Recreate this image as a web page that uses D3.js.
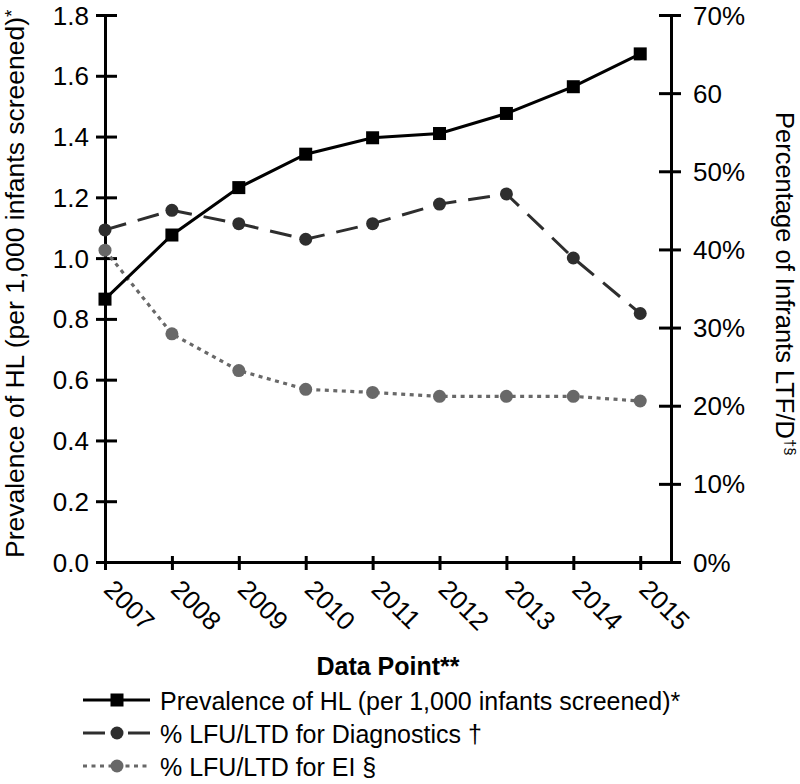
<!DOCTYPE html>
<html><head><meta charset="utf-8">
<script src="https://cdn.jsdelivr.net/npm/d3@7"></script>
<style>
body{margin:0;background:#fff}
text{font-family:"Liberation Sans",Arial,Helvetica,sans-serif;fill:#000}
</style>
</head><body>
<svg id="c" width="800" height="784"></svg>
<script>
// ---- data ----
const years = [2007, 2008, 2009, 2010, 2011, 2012, 2013, 2014, 2015];
const prevalence = [0.865, 1.076, 1.232, 1.342, 1.396, 1.41, 1.476, 1.564, 1.672];
const lfuDiagnostics = [42.5, 45.0, 43.3, 41.3, 43.3, 45.8, 47.1, 38.9, 31.8];
const lfuEI = [39.9, 29.2, 24.5, 22.1, 21.7, 21.2, 21.2, 21.2, 20.6];
const leftTicks = [0, 0.2, 0.4, 0.6, 0.8, 1.0, 1.2, 1.4, 1.6, 1.8];
const rightTicks = [0, 10, 20, 30, 40, 50, 60, 70];
const rightTickLabels = ["0%", "10%", "20%", "30%", "40%", "50%", "60", "70%"];
const legendLabels = [
  "Prevalence of HL (per 1,000 infants screened)*",
  "% LFU/LTD for Diagnostics †",
  "% LFU/LTD for EI §"
];
const xTitle = "Data Point**";
const yLeftTitle = "Prevalence of HL (per 1,000 infants screened)";
const yRightTitle = "Percentage of Infrants LTF/D";

// ---- layout ----
const L = 105, R = 671, T = 15, B = 562;
const svg = d3.select("#c");
const x = d3.scaleLinear().domain([2007, 2015.46]).range([L, R]);
const yL = d3.scaleLinear().domain([0, 1.8]).range([B, T]);
const yR = d3.scaleLinear().domain([0, 70]).range([B, T]);

const FS = 25, TFS = 26;

// bottom axis
const gx = svg.append("g").attr("transform", `translate(0,${B})`)
  .call(d3.axisBottom(x).tickValues(years).tickFormat(d3.format("d")).tickSizeOuter(0));
gx.select(".domain").attr("stroke", "#000").attr("stroke-width", 3);
gx.selectAll(".tick line").attr("y1", -6).attr("y2", 8).attr("stroke", "#000").attr("stroke-width", 3);
gx.selectAll(".tick text").attr("font-size", TFS).attr("fill", "#000")
  .attr("x", 0).attr("y", 0).attr("dy", null).attr("text-anchor", "start")
  .attr("transform", "translate(-3,29) rotate(45)");

// left axis
const gl = svg.append("g").attr("transform", `translate(${L},0)`)
  .call(d3.axisLeft(yL).tickValues(leftTicks).tickFormat(d3.format(".1f")).tickSizeOuter(0));
gl.select(".domain").attr("stroke", "#000").attr("stroke-width", 3);
gl.selectAll(".tick line").attr("x1", -9).attr("x2", 12).attr("stroke", "#000").attr("stroke-width", 3);
gl.selectAll(".tick text").attr("font-size", TFS).attr("fill", "#000").attr("x", -16).attr("dy", "0.35em");

// right axis
const gr = svg.append("g").attr("transform", `translate(${R},0)`)
  .call(d3.axisRight(yR).tickValues(rightTicks).tickFormat((d, i) => rightTickLabels[i]).tickSizeOuter(0));
gr.select(".domain").attr("stroke", "#000").attr("stroke-width", 3);
gr.selectAll(".tick line").attr("x1", -12).attr("x2", 10).attr("stroke", "#000").attr("stroke-width", 3);
gr.selectAll(".tick text").attr("font-size", TFS).attr("fill", "#000").attr("x", 22).attr("dy", "0.35em");

// titles
svg.append("text").attr("x", 388).attr("y", 675).attr("text-anchor", "middle")
  .attr("font-size", FS).attr("font-weight", "bold").text(xTitle);

const lt = svg.append("text").attr("transform", "translate(24,558) rotate(-90)")
  .attr("text-anchor", "start").attr("font-size", 26.5);
lt.append("tspan").text(yLeftTitle);
lt.append("tspan").attr("font-size", 19).attr("dy", -6).text("*");

const rt = svg.append("text").attr("transform", "translate(776,112) rotate(90)")
  .attr("text-anchor", "start").attr("font-size", 25.5);
rt.append("tspan").text(yRightTitle);
rt.append("tspan").attr("font-size", 15).attr("dy", -9).text("†§");

// series
const colDiag = "#2e2e2e", colEI = "#686868";
const lineEI = d3.line().x((d, i) => x(years[i])).y(d => yR(d));
const lineDiag = d3.line().x((d, i) => x(years[i])).y(d => yR(d));
const linePrev = d3.line().x((d, i) => x(years[i])).y(d => yL(d));

svg.append("path").datum(lfuEI).attr("d", lineEI).attr("fill", "none")
  .attr("stroke", colEI).attr("stroke-width", 3.2).attr("stroke-dasharray", "4,4.5");
svg.selectAll("circle.ei").data(lfuEI).join("circle").attr("class", "ei")
  .attr("cx", (d, i) => x(years[i])).attr("cy", d => yR(d)).attr("r", 6.5).attr("fill", colEI);

svg.append("path").datum(lfuDiagnostics).attr("d", lineDiag).attr("fill", "none")
  .attr("stroke", colDiag).attr("stroke-width", 3).attr("stroke-dasharray", "22,12");
svg.selectAll("circle.dg").data(lfuDiagnostics).join("circle").attr("class", "dg")
  .attr("cx", (d, i) => x(years[i])).attr("cy", d => yR(d)).attr("r", 6.5).attr("fill", colDiag);

svg.append("path").datum(prevalence).attr("d", linePrev).attr("fill", "none")
  .attr("stroke", "#000").attr("stroke-width", 3);
const sq = 13;
svg.selectAll("rect.pv").data(prevalence).join("rect").attr("class", "pv")
  .attr("x", (d, i) => x(years[i]) - sq / 2).attr("y", d => yL(d) - sq / 2)
  .attr("width", sq).attr("height", sq).attr("fill", "#000");

// legend
const legY = [700, 733, 766];
const lx0 = 83, lx1 = 150, lmx = 117;
const lg = svg.append("g");
// row 1
lg.append("line").attr("x1", lx0).attr("x2", lx1).attr("y1", legY[0]).attr("y2", legY[0])
  .attr("stroke", "#000").attr("stroke-width", 3);
lg.append("rect").attr("x", lmx - sq / 2).attr("y", legY[0] - sq / 2).attr("width", sq).attr("height", sq).attr("fill", "#000");
// row 2
lg.append("line").attr("x1", lx0).attr("x2", lx1).attr("y1", legY[1]).attr("y2", legY[1])
  .attr("stroke", colDiag).attr("stroke-width", 3).attr("stroke-dasharray", "22,23");
lg.append("circle").attr("cx", lmx).attr("cy", legY[1]).attr("r", 6.5).attr("fill", colDiag);
// row 3
lg.append("line").attr("x1", lx0).attr("x2", lx1).attr("y1", legY[2]).attr("y2", legY[2])
  .attr("stroke", colEI).attr("stroke-width", 3.2).attr("stroke-dasharray", "4,4.5");
lg.append("circle").attr("cx", lmx).attr("cy", legY[2]).attr("r", 6.5).attr("fill", colEI);
lg.selectAll("text").data(legendLabels).join("text")
  .attr("x", 160).attr("y", (d, i) => legY[i] + 9.5).attr("font-size", FS).text(d => d);
</script>
</body></html>
